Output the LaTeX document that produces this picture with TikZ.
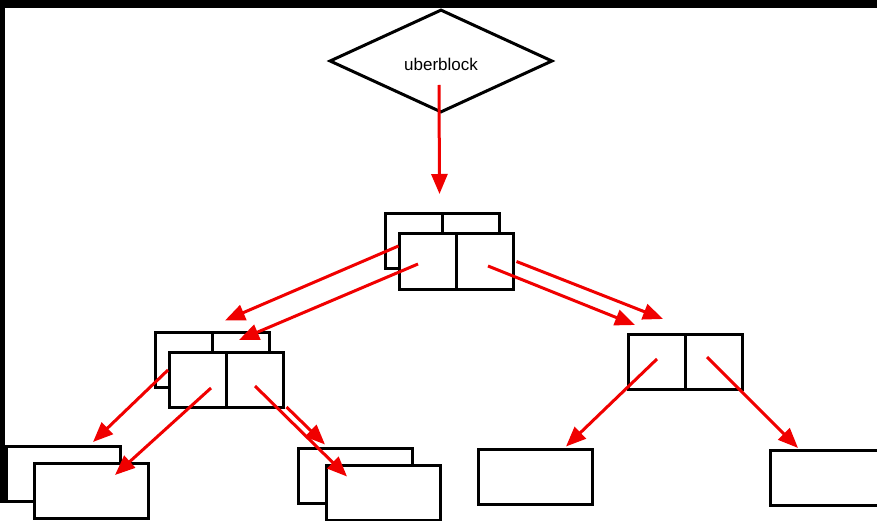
\documentclass[tikz,border=0pt]{standalone}
\usepackage{fontspec}
\setmainfont{Liberation Sans}
\usepackage{xcolor}
\usepackage{tikz}
\usetikzlibrary{shapes.geometric}
\usetikzlibrary{arrows.meta}
\colorlet{ptr}{red!94!black}
\tikzset{
  % node options
  block/.style={rectangle,draw,line width=3pt,fill=white,
    minimum width=114pt,minimum height=55pt,inner sep=0pt},
  pair/.style={block,path picture={
    \draw[line width=3pt] (path picture bounding box.north) -- (path picture bounding box.south);}},
  root/.style={diamond,draw,line width=3pt,fill=white,inner sep=0pt,
    minimum width=223pt,minimum height=103pt,
    font=\fontsize{17}{20}\selectfont,text height=18.4pt,text depth=0pt},
  % path options
  link/.style={-{Triangle[length=20pt,width=16pt]},draw=ptr,fill=ptr,line width=3pt},
}

\begin{document}
\begin{tikzpicture}[x=1pt,y=-1pt]
    \useasboundingbox (0,0) rectangle (877,521);
    \fill[black] (0,0) rectangle (877,8);
    \fill[black] (0,0) rectangle (5,503);
    \node[root] (uber) at (441,61) {uberblock};
    % old and new copies
    \node[pair] (topB) at (442.5,241) {};
    \node[pair] (topF) at (456,261.5) {};
    \node[pair] (midLB) at (212,359.5) {};
    \node[pair] (midLF) at (226,380) {};
    \node[pair] (midR) at (685.5,362) {};
    \node[block] (botLB) at (63.5,474) {};
    \node[block] (botLF) at (91,491) {};
    \node[block] (botMB) at (355,475.5) {};
    \node[block] (botMF) at (383,492.5) {};
    \node[block] (botR1) at (535.5,476.5) {};
    \node[block] (botR2) at (827,478) {};
    % pointers
    \draw[link] ([xshift=-2pt,yshift=-24pt]uber.center) -- ([xshift=-3pt,yshift=18pt]topB.north);
    \draw[link] ([xshift=-44pt,yshift=-5pt]topB.center) -- ([xshift=13pt,yshift=10pt]midLB.north);
    \draw[link] ([xshift=-38pt,yshift=-2.5pt]topF.center) -- ([xshift=13pt,yshift=11pt]midLF.north);
    \draw[link] ([xshift=32pt,yshift=-4.5pt]topF.center) -- ([xshift=-50.5pt,yshift=8pt]midR.north);
    \draw[link] ([xshift=2pt]topF.east) -- ([xshift=-22.5pt,yshift=14pt]midR.north);
    \draw[link] ([xshift=-44pt,yshift=-10.5pt]midLB.center) -- ([xshift=29.5pt,yshift=3pt]botLB.north);
    \draw[link] ([xshift=-15pt,yshift=-8pt]midLF.center) -- ([xshift=24pt,yshift=-13pt]botLF.north);
    \draw[link] ([xshift=29pt,yshift=-6pt]midLF.center) -- ([xshift=-36pt,yshift=-13pt]botMF.north);
    \draw[link] ([xshift=2pt,yshift=2pt]midLF.south east) -- ([xshift=-30pt,yshift=2pt]botMB.north);
    \draw[link] ([xshift=-28.5pt,yshift=3pt]midR.center) -- ([xshift=30.5pt,yshift=1pt]botR1.north);
    \draw[link] ([xshift=21.5pt,yshift=5pt]midR.center) -- ([xshift=-29pt,yshift=1pt]botR2.north);
\end{tikzpicture}
\end{document}
